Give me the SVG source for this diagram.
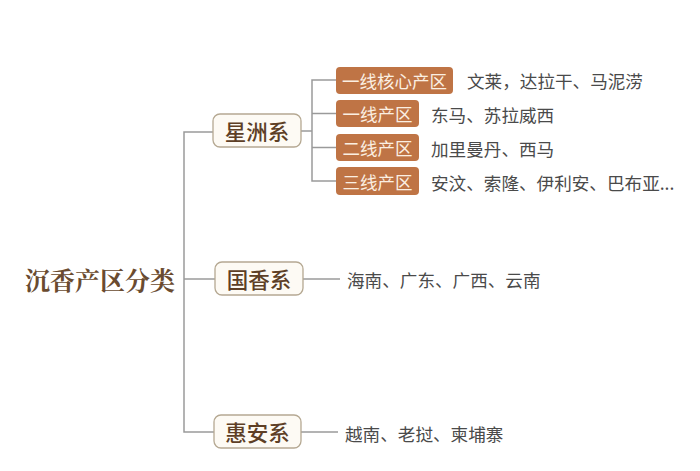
<svg xmlns="http://www.w3.org/2000/svg" width="700" height="471" viewBox="0 0 700 471">
<style>
.ln{stroke:#9a9a9a;stroke-width:1.5;fill:none}
.cat rect{fill:#fdfaf4;stroke:#b5a892;stroke-width:1.3}
.cat text{font-family:"Noto Sans CJK SC",sans-serif;font-size:21.5px;font-weight:500;fill:#5e3f26;text-anchor:middle;dominant-baseline:central}
.tag rect{fill:#bf7445}
.tag text{font-family:"Noto Sans CJK SC",sans-serif;font-size:17.5px;fill:#fbefe2;text-anchor:middle;dominant-baseline:central}
.leaf{font-family:"Noto Sans CJK SC",sans-serif;font-size:17.6px;fill:#4a4a4a;dominant-baseline:central}
.root{font-family:"Noto Serif CJK SC","Noto Sans CJK SC",serif;font-weight:bold;font-size:25px;fill:#6a4b30;dominant-baseline:central}
</style>
<rect width="700" height="471" fill="#fff"/>
<g id="connectors">
<path class="ln" d="M213 132 H184 V432 H214"/>
<path class="ln" d="M184 279 H215"/>
<path class="ln" d="M301 131 H312"/>
<path class="ln" d="M336 80 H312 V181 H336"/>
<path class="ln" d="M312 113.5 H336"/>
<path class="ln" d="M312 147.5 H336"/>
<path class="ln" d="M303 279 H340"/>
<path class="ln" d="M301 432 H338"/>
</g>
<g id="root"><text class="root" x="25" y="279">沉香产区分类</text></g>
<g id="xingzhou" class="cat"><rect x="213" y="114" width="88" height="33" rx="7"/><text x="257" y="130.5">星洲系</text></g>
<g id="guoxiang" class="cat"><rect x="215" y="262" width="88" height="33" rx="7"/><text x="259" y="278.5">国香系</text></g>
<g id="huian" class="cat"><rect x="214" y="415" width="87" height="33" rx="7"/><text x="257.5" y="431.5">惠安系</text></g>
<g id="t1" class="tag"><rect x="336" y="67" width="117" height="27" rx="4"/><text x="394.5" y="80.5">一线核心产区</text></g>
<g id="t2" class="tag"><rect x="336" y="100" width="83" height="27" rx="4"/><text x="377.5" y="113.5">一线产区</text></g>
<g id="t3" class="tag"><rect x="336" y="134" width="83" height="27" rx="4"/><text x="377.5" y="147.5">二线产区</text></g>
<g id="t4" class="tag"><rect x="336" y="167" width="83" height="28" rx="4"/><text x="377.5" y="181">三线产区</text></g>
<g id="l1"><text class="leaf" x="467" y="80">文莱，达拉干、马泥涝</text></g>
<g id="l2"><text class="leaf" x="431" y="114">东马、苏拉威西</text></g>
<g id="l3"><text class="leaf" x="431" y="148">加里曼丹、西马</text></g>
<g id="l4"><text class="leaf" x="431" y="182">安汶、索隆、伊利安、巴布亚...</text></g>
<g id="l5"><text class="leaf" x="347" y="279">海南、广东、广西、云南</text></g>
<g id="l6"><text class="leaf" x="345" y="433">越南、老挝、柬埔寨</text></g>
</svg>
